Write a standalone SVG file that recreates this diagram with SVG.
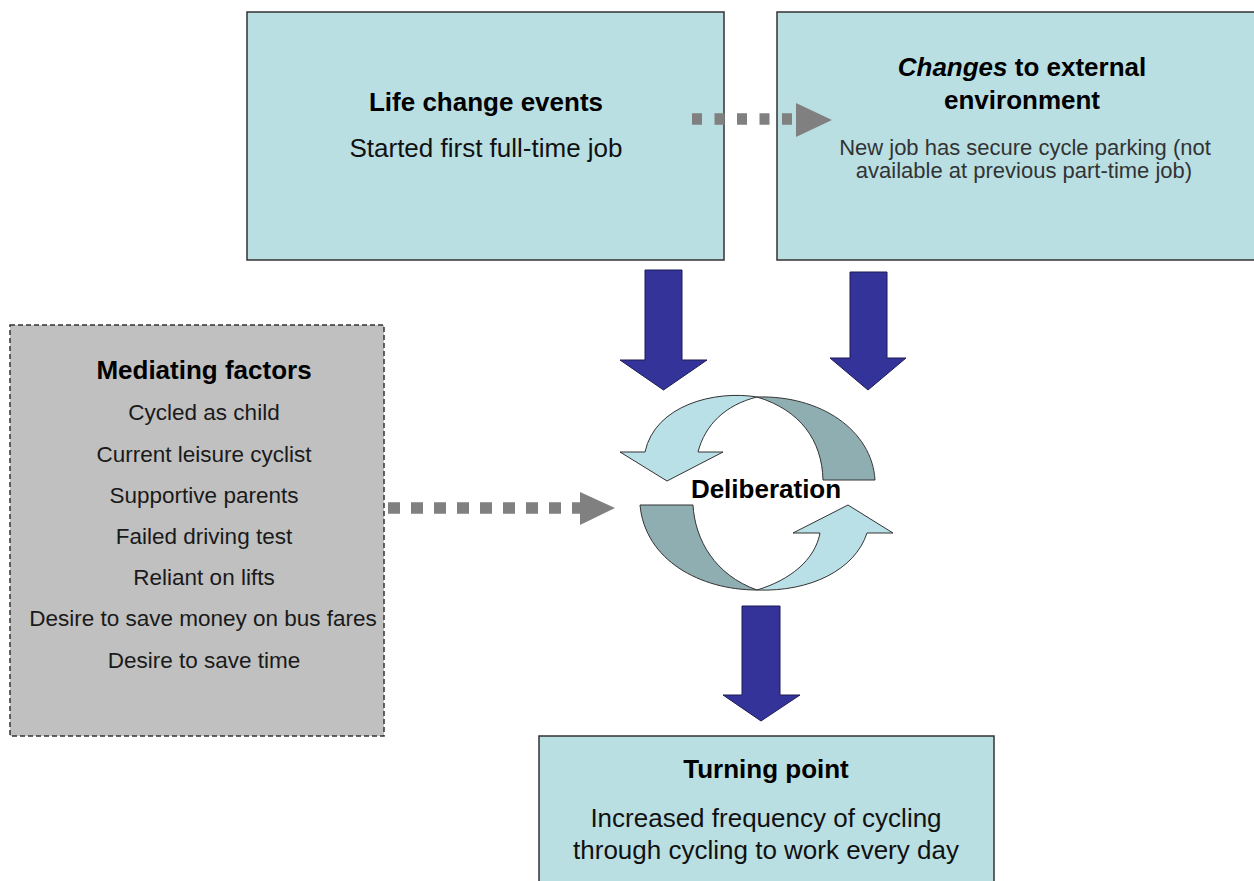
<svg xmlns="http://www.w3.org/2000/svg" width="1254" height="881" viewBox="0 0 1254 881">
<style>
text{font-family:"Liberation Sans",Arial,sans-serif;text-anchor:middle}
.t{font-size:26px;font-weight:bold;fill:#000}
.b{font-size:26px;fill:#111}
.s{font-size:22px;fill:#333}
.m{font-size:22.5px;fill:#1a1a1a}
.box{fill:#b9dfe3;stroke:#333;stroke-width:1.5}
.blue{fill:#333399;stroke:#1c1c55;stroke-width:1}
.dot{stroke:#808080;stroke-width:11.5;fill:none}
.head{fill:#808080}
.lt{fill:#b9e0e6;stroke:#333;stroke-width:1}
.dk{fill:#8faeb2;stroke:#333;stroke-width:1}
</style>
<rect width="1254" height="881" fill="#fff"/>
<g id="life-change">
<rect class="box" x="247" y="12" width="477" height="248"/>
<text class="t" x="486" y="111">Life change events</text>
<text class="b" x="486" y="157">Started first full-time job</text>
</g>
<g id="external">
<rect class="box" x="777" y="12" width="500" height="248"/>
<text class="t" x="1022" y="76"><tspan font-style="italic">Changes</tspan> to external</text>
<text class="t" x="1022" y="109">environment</text>
<text class="s" x="1025" y="155">New job has secure cycle parking (not</text>
<text class="s" x="1024" y="178">available at previous part-time job)</text>
</g>
<g id="mediating">
<rect x="10" y="325" width="374" height="411" fill="#c0c0c0" stroke="#333" stroke-width="1.5" stroke-dasharray="5 3"/>
<text class="t" x="204" y="379">Mediating factors</text>
<text class="m" x="204" y="420">Cycled as child</text>
<text class="m" x="204" y="462">Current leisure cyclist</text>
<text class="m" x="204" y="503">Supportive parents</text>
<text class="m" x="204" y="544">Failed driving test</text>
<text class="m" x="204" y="585">Reliant on lifts</text>
<text class="m" x="203" y="626">Desire to save money on bus fares</text>
<text class="m" x="204" y="668">Desire to save time</text>
</g>
<g id="deliberation">
<path class="dk" d="M757,397 C820,395 872,430 875,480 L823,480 C822,440 800,410 757,397 Z"/>
<path class="lt" d="M757,397 C715,390 655,405 645,452 L620,452 L667,481 L723,452 L698,452 C705,425 725,405 757,397 Z"/>
<path class="dk" d="M640,505 L693,505 C695,540 715,575 757,590 C700,590 645,560 640,505 Z"/>
<path class="lt" d="M757,590 C810,592 855,570 867,533 L893,533 L848,505 L793,533 L820,533 C815,560 790,580 757,590 Z"/>
<text class="t" x="766" y="498" font-size="25">Deliberation</text>
</g>
<g id="turning-point">
<rect class="box" x="539" y="736" width="455" height="160"/>
<text class="t" x="766" y="778">Turning point</text>
<text class="b" x="766" y="827">Increased frequency of cycling</text>
<text class="b" x="766" y="859">through cycling to work every day</text>
</g>
<g id="connectors">
<line class="dot" x1="692" y1="119" x2="792" y2="119" stroke-dasharray="10 12.5"/>
<polygon class="head" points="796,103 832,120 796,137"/>
<line class="dot" x1="388" y1="508" x2="584" y2="508" stroke-dasharray="12 11"/>
<polygon class="head" points="580,492 615,508 580,525"/>
<polygon class="blue" points="645,270 682,270 682,360 707,360 663.5,390 620,360 645,360"/>
<polygon class="blue" points="850,272 887,272 887,358 906,358 868,390 830,358 850,358"/>
<polygon class="blue" points="742,606 780,606 780,695 800,695 761,721 723,695 742,695"/>
</g>
</svg>
